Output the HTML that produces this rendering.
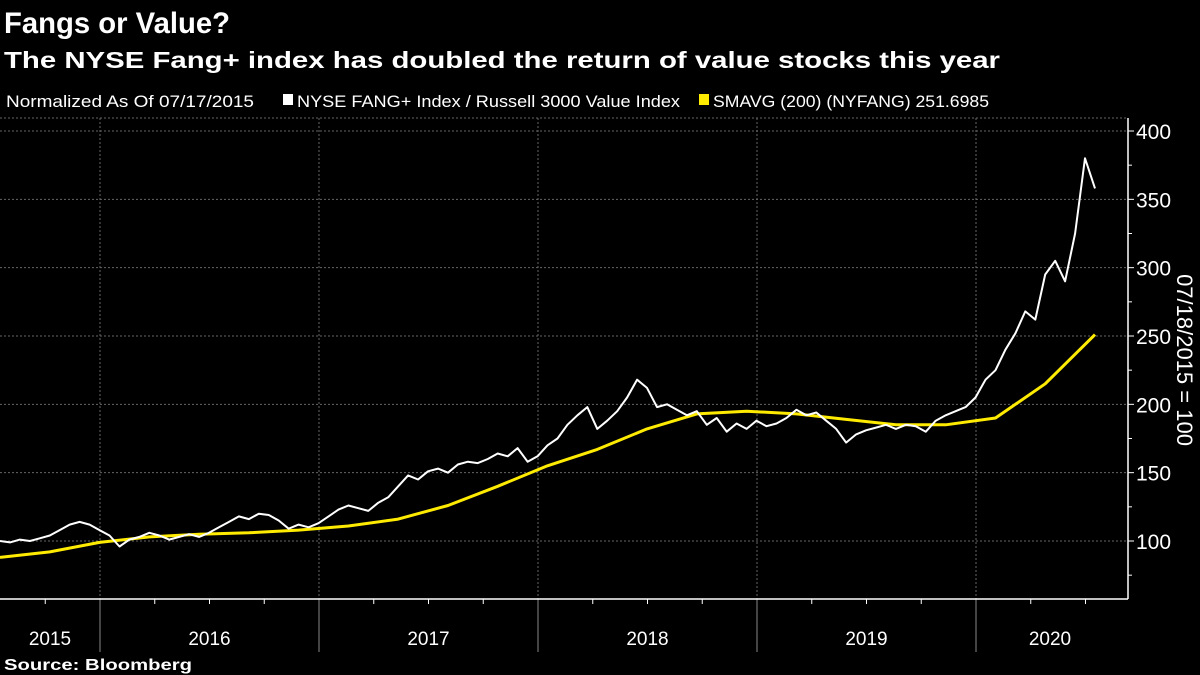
<!DOCTYPE html>
<html><head><meta charset="utf-8"><style>
html,body{margin:0;padding:0;background:#000;width:1200px;height:675px;overflow:hidden}
svg{display:block;font-family:"Liberation Sans",sans-serif}
</style></head><body>
<svg id="chart" width="1200" height="675" viewBox="0 0 1200 675">
<text x="4" y="33" fill="#fff" font-size="30" font-weight="bold" textLength="226" lengthAdjust="spacingAndGlyphs">Fangs or Value?</text>
<text x="4" y="68" fill="#fff" font-size="23" font-weight="bold" textLength="996" lengthAdjust="spacingAndGlyphs">The NYSE Fang+ index has doubled the return of value stocks this year</text>
<g>
<text x="6" y="107" fill="#fff" font-size="17" textLength="248" lengthAdjust="spacingAndGlyphs">Normalized As Of 07/17/2015</text>
<rect x="283" y="94" width="10" height="11" fill="#fff"/>
<text x="297" y="107" fill="#fff" font-size="17" textLength="383" lengthAdjust="spacingAndGlyphs">NYSE FANG+ Index / Russell 3000 Value Index</text>
<rect x="699" y="94" width="10" height="11" fill="#ffeb00"/>
<text x="713" y="107" fill="#fff" font-size="17" textLength="276" lengthAdjust="spacingAndGlyphs">SMAVG (200) (NYFANG) 251.6985</text>
</g>
<g id="grid"></g>
<g id="axes"></g>
<g id="series"></g>
<text transform="translate(1177,360) rotate(90)" text-anchor="middle" fill="#fff" font-size="22">07/18/2015 = 100</text>
<text x="4" y="670" fill="#fff" font-size="16" font-weight="bold" textLength="188" lengthAdjust="spacingAndGlyphs">Source: Bloomberg</text>
</svg>
<script>
const yTicks=[100,150,200,250,300,350,400];
const yearLabels=["2015","2016","2017","2018","2019","2020"];
const fangValues=[100,99,101,100,102,104,108,112,114,112,108,104,96,101,103,106,104,101,103,105,103,106,110,114,118,116,120,119,115,109,112,110,113,118,123,126,124,122,128,132,140,148,145,151,153,150,156,158,157,160,164,162,168,158,162,170,175,185,192,198,182,188,195,205,218,212,198,200,196,192,195,185,190,180,186,182,188,184,186,190,196,192,194,188,182,172,178,181,183,185,182,185,184,180,188,192,195,198,205,218,225,240,252,268,262,295,305,290,325,380,358];
const smaValues=[88,92,99,103,105,106,108,111,116,126,140,155,167,182,193,195,193,189,185,185,190,215,251];
const NS="http://www.w3.org/2000/svg";
const X0=0,XEND=1095,AXIS_X=1128,TOP=118,BOTTOM=599;
const YEAR_PX=219,FIRST_YEAR_X=100;
function yScale(v){return 541-(v-100)*(410/300);}
function xIdx(i,n){return X0+i*(XEND-X0)/(n-1);}
function mk(tag,attrs,parent){const e=document.createElementNS(NS,tag);for(const k in attrs)e.setAttribute(k,attrs[k]);parent.appendChild(e);return e;}
const grid=document.getElementById('grid'),axes=document.getElementById('axes'),series=document.getElementById('series');
yTicks.forEach(v=>{
 const y=yScale(v);
 const g=mk('line',{x1:0,x2:AXIS_X,y1:y,y2:y,stroke:'#666','stroke-dasharray':'2,2','stroke-width':1},grid);
 
 
 const t=mk('line',{x1:AXIS_X,x2:AXIS_X+6,y1:y,y2:y,stroke:'#fff'},axes);
 
 
 const l=mk('text',{x:AXIS_X+8,y:y+8,fill:'#fff','font-size':21},axes);
 l.textContent=v;
 
 
});
for(let v=75;v<=375;v+=50){const y=yScale(v);const t=mk('line',{x1:AXIS_X,x2:AXIS_X+4,y1:y,y2:y,stroke:'#fff'},axes);
 
 }
const topLine=mk('line',{x1:0,x2:AXIS_X,y1:TOP,y2:TOP,stroke:'#666','stroke-dasharray':'2,2'},grid);


for(let k=0;k<5;k++){
 const x=FIRST_YEAR_X+k*YEAR_PX;
 const g=mk('line',{x1:x,x2:x,y1:TOP,y2:BOTTOM,stroke:'#666','stroke-dasharray':'2,2'},grid);
 
 
 const s=mk('line',{x1:x,x2:x,y1:BOTTOM,y2:652,stroke:'#888'},axes);
 
 
}
for(let q=-2;q<24;q++){const x=FIRST_YEAR_X+q*YEAR_PX/4;if(x<=0||x>AXIS_X||q%4===0)continue;
 const t=mk('line',{x1:x,x2:x,y1:BOTTOM,y2:BOTTOM+5,stroke:'#fff'},axes);
 
 }
const ax=mk('line',{x1:0,x2:AXIS_X,y1:BOTTOM,y2:BOTTOM,stroke:'#fff','stroke-width':1.5},axes);


const ay=mk('line',{x1:AXIS_X,x2:AXIS_X,y1:TOP,y2:BOTTOM,stroke:'#fff','stroke-width':1.5},axes);


yearLabels.forEach((lab,k)=>{
 const x0=k===0?0:FIRST_YEAR_X+(k-1)*YEAR_PX;
 const x1=k===0?FIRST_YEAR_X:Math.min(FIRST_YEAR_X+k*YEAR_PX,XEND+10);
 const t=mk('text',{x:k===0?50:(k===5?1050:(x0+x1)/2),y:645,fill:'#fff','font-size':19,'text-anchor':'middle'},axes);
 t.textContent=lab;
 
 
});
const sp=smaValues.map((v,i)=>xIdx(i,smaValues.length).toFixed(1)+','+yScale(v).toFixed(1)).join(' ');
const sl=mk('polyline',{points:sp,fill:'none',stroke:'#ffeb00','stroke-width':3,'stroke-linejoin':'round'},series);


const fp=fangValues.map((v,i)=>xIdx(i,fangValues.length).toFixed(1)+','+yScale(v).toFixed(1)).join(' ');
const fl=mk('polyline',{points:fp,fill:'none',stroke:'#fff','stroke-width':2,'stroke-linejoin':'round'},series);


</script>
</body></html>
